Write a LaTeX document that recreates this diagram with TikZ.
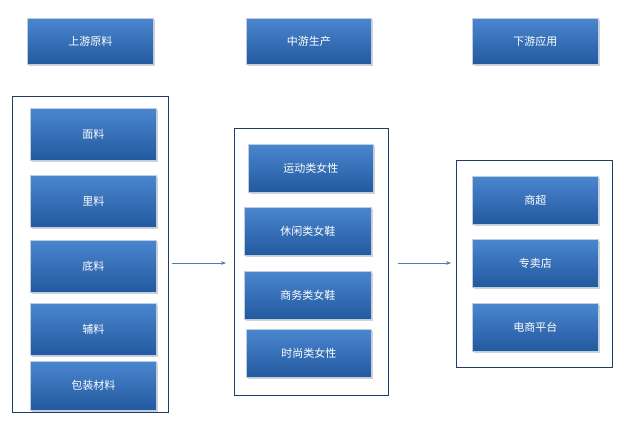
\documentclass[tikz,border=0pt]{standalone}
\usepackage{fontspec}
\newfontfamily\cjk{Noto Sans CJK SC}
\usetikzlibrary{shadows,arrows.meta}
\definecolor{bxtop}{HTML}{4A86CF}
\definecolor{bxbot}{HTML}{23599E}
\definecolor{frame}{HTML}{1F3B6B}
\definecolor{arr}{HTML}{4A7EBB}
\tikzset{
  bx/.style={draw=white!70!bxbot, line width=0.6pt, top color=bxtop, bottom color=bxbot, text=white, font=\cjk\fontsize{11}{11}\selectfont, drop shadow={opacity=0.35, shadow xshift=1.5pt, shadow yshift=-1.5pt}},
  fr/.style={draw=frame, line width=1.2pt},
  ar/.style={draw=arr, line width=1pt, -{Stealth[length=5pt]}}
}
\newcommand{\bxn}[6]{\node[bx, minimum width=#4-#2, minimum height=#5-#3, anchor=north west, inner sep=0pt] (#1) at (#2,#3) {#6};}
\begin{document}
\begin{tikzpicture}[x=1pt,y=-1pt]
\useasboundingbox (0,0) rectangle (628,442);
\fill[white] (0,0) rectangle (628,442);
\bxn{u}{27}{18}{153}{64}{上游原料}
\bxn{m}{246}{18}{371}{64}{中游生产}
\bxn{d}{472}{18}{598}{64}{下游应用}
\node[fr, minimum width=156, minimum height=316, anchor=north west, inner sep=0pt] (L) at (12,96) {};
\bxn{a1}{30}{108}{156}{160}{面料}
\bxn{a2}{30}{175}{156}{227}{里料}
\bxn{a3}{30}{240}{156}{292}{底料}
\bxn{a4}{30}{303}{156}{355}{辅料}
\bxn{a5}{30}{361}{156}{410}{包装材料}
\node[fr, minimum width=154, minimum height=267, anchor=north west, inner sep=0pt] (M) at (234,128) {};
\bxn{b1}{248}{144}{373}{192}{运动类女性}
\bxn{b2}{244}{207}{371}{255}{休闲类女鞋}
\bxn{b3}{244}{271}{371}{319}{商务类女鞋}
\bxn{b4}{246}{329}{371}{377}{时尚类女性}
\node[fr, minimum width=156, minimum height=207, anchor=north west, inner sep=0pt] (R) at (456,160) {};
\bxn{c1}{472}{176}{598}{224}{商超}
\bxn{c2}{472}{239}{598}{287}{专卖店}
\bxn{c3}{472}{303}{598}{351}{电商平台}
\coordinate (p1) at (172,263); \coordinate (p2) at (226,263);
\coordinate (q1) at (398,263); \coordinate (q2) at (451,263);
\draw[ar] (p1) -- (p2);
\draw[ar] (q1) -- (q2);
\end{tikzpicture}
\end{document}
